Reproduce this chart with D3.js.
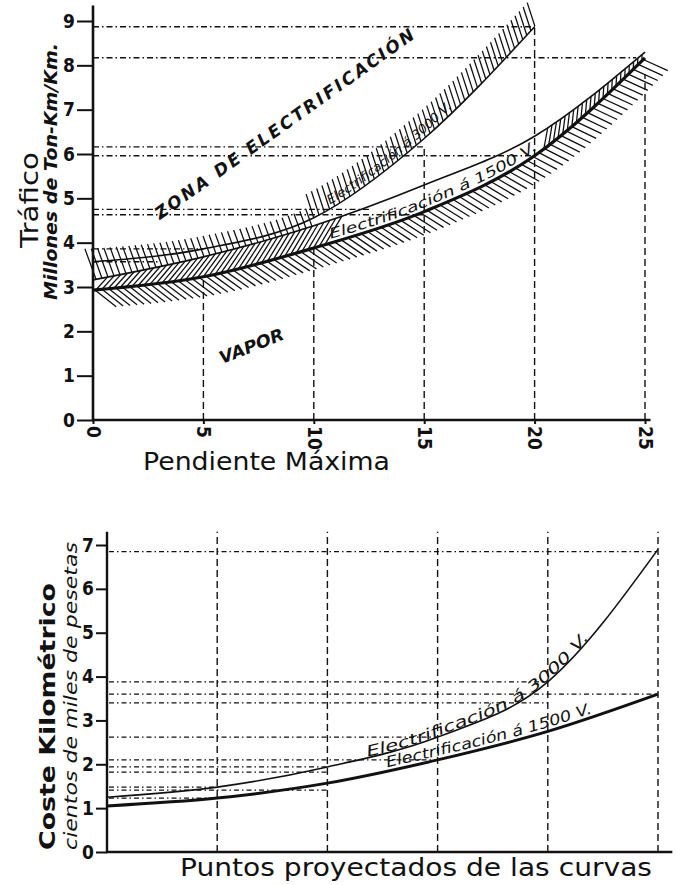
<!DOCTYPE html>
<html><head><meta charset="utf-8">
<script src="https://cdn.jsdelivr.net/npm/d3@7"></script>
<style>body{margin:0;background:#fff}</style>
</head><body>
<svg id="c" width="677" height="885"></svg>
<script>
// ===== TOP CHART DATA (Tráfico vs Pendiente Máxima) =====
const pendiente = [0, 5, 10, 15, 20, 25];
const pendiente3000 = [0, 5, 10, 15, 20];
const trafico3000 = [3.57, 3.86, 4.56, 6.35, 8.87];
const trafico1500 = [3.16, 3.68, 4.38, 5.3, 6.4, 8.3];
const traficoVapor = [2.93, 3.23, 3.88, 4.7, 5.96, 8.17];
const topYTicks = [0, 1, 2, 3, 4, 5, 6, 7, 8, 9];
const topXTicks = [0, 5, 10, 15, 20, 25];
const topHLineVal = [8.87, 8.17, 6.16, 5.96, 4.75, 4.63, 3.86, 3.57];
const topHLineEnd = [20, 24.6, 15, 20, 12.6, 15, 5, 3];
const topVLineX = [5, 10, 15, 20, 25];
const topVLineTop = [3.23, 3.88, 6.16, 8.87, 7.8];

// ===== BOTTOM CHART DATA (Coste Kilométrico) =====
const puntos = [0, 1, 2, 3, 4, 5];
const coste3000 = [1.25, 1.48, 1.94, 2.62, 3.88, 6.9];
const coste1500 = [1.05, 1.23, 1.57, 2.1, 2.75, 3.6];
const botYTicks = [0, 1, 2, 3, 4, 5, 6, 7];
const botHLineVal = [6.85, 3.88, 3.6, 3.4, 2.62, 2.1, 1.94, 1.82, 1.48, 1.41, 1.23];
const botHLineEnd = [5, 4, 5, 4, 3, 3, 2, 2, 1, 2, 1];
const botVLineX = [1, 2, 3, 4, 5];
const botVLineTop = 7.3;

const INK = '#111';
const SANS = "'DejaVu Sans', sans-serif";
const COND = "'DejaVu Sans Condensed','DejaVu Sans', sans-serif";
const svg = d3.select('#c');

// ---------- scales ----------
const xT = d3.scaleLinear().domain([0, 25]).range([93, 645]);
const yT = d3.scaleLinear().domain([0, 9]).range([420, 21]);
const xB = d3.scaleLinear().domain([0, 5]).range([107, 658]);
const yB = d3.scaleLinear().domain([0, 7]).range([852, 545]);

// ---------- helpers ----------
function sampler(node) {
  const L = node.getTotalLength();
  const n = Math.ceil(L / 1.5);
  const pts = d3.range(n + 1).map(i => { const p = node.getPointAtLength(L * i / n); return {x: p.x, y: p.y, s: L * i / n}; });
  return {L, pts, node};
}
function interpAt(S, x, key) {
  const pts = S.pts;
  if (x <= pts[0].x) return pts[0][key];
  if (x >= pts[pts.length - 1].x) return pts[pts.length - 1][key];
  let lo = 0, hi = pts.length - 1;
  while (hi - lo > 1) { const m = (lo + hi) >> 1; if (pts[m].x <= x) lo = m; else hi = m; }
  const a = pts[lo], b = pts[hi]; const t = (x - a.x) / ((b.x - a.x) || 1);
  return a[key] + t * (b[key] - a[key]);
}
const yAt = (S, x) => interpAt(S, x, 'y');
const sAt = (S, x) => interpAt(S, x, 's');
function tangent(S, s) {
  const p = S.node.getPointAtLength(Math.max(0, s - 1.5)), q = S.node.getPointAtLength(Math.min(S.L, s + 1.5));
  return Math.atan2(p.y - q.y, q.x - p.x);
}
function solve(f, tmax) {
  if (f(tmax) > 0) return tmax;
  let lo = 0, hi = tmax;
  for (let i = 0; i < 25; i++) { const m = (lo + hi) / 2; if (f(m) > 0) lo = m; else hi = m; }
  return (lo + hi) / 2;
}
function segPath(segs) { return segs.map(s => `M${s[0].toFixed(1)},${s[1].toFixed(1)}L${s[2].toFixed(1)},${s[3].toFixed(1)}`).join(''); }

// ================= TOP CHART =================
const gT = svg.append('g');
gT.selectAll('.th').data(topHLineVal).join('line')
  .attr('x1', xT(0)).attr('x2', (d, i) => xT(topHLineEnd[i]))
  .attr('y1', d => yT(d)).attr('y2', d => yT(d))
  .attr('stroke', INK).attr('stroke-width', 1.4).attr('stroke-dasharray', '6 3 1.5 3');
gT.selectAll('.tv').data(topVLineX).join('line')
  .attr('x1', d => xT(d)).attr('x2', d => xT(d))
  .attr('y1', yT(0)).attr('y2', (d, i) => yT(topVLineTop[i]))
  .attr('stroke', INK).attr('stroke-width', 1.4).attr('stroke-dasharray', '7 4');

const lineT = d3.line().curve(d3.curveMonotoneX);
const pA = gT.append('path').attr('id', 'tA')
  .attr('d', lineT(pendiente3000.map((p, i) => [xT(p), yT(trafico3000[i])])))
  .attr('fill', 'none').attr('stroke', INK).attr('stroke-width', 1.6);
const pB = gT.append('path').attr('id', 'tB')
  .attr('d', lineT(pendiente.map((p, i) => [xT(p), yT(trafico1500[i])])))
  .attr('fill', 'none').attr('stroke', INK).attr('stroke-width', 1.6);
const pC = gT.append('path').attr('id', 'tC')
  .attr('d', lineT(pendiente.map((p, i) => [xT(p), yT(traficoVapor[i])])))
  .attr('fill', 'none').attr('stroke', INK).attr('stroke-width', 3.2);
const SA = sampler(pA.node()), SB = sampler(pB.node()), SC = sampler(pC.node());

const segs = [];
// hatch below vapor curve
for (let s = 2; s < SC.L; s += 7) {
  const p = SC.node.getPointAtLength(s);
  const th = tangent(SC, s) * 180 / Math.PI;
  const a = (40 - 0.35 * th) * Math.PI / 180;
  segs.push([p.x, p.y, p.x + 27 * Math.cos(a), p.y + 27 * Math.sin(a)]);
}
// band hatch "///" between vapor and 1500 V (text occupies the middle part)
const xTextStart = 332, xTextEnd = 540;
for (let s = 3; s < SC.L - 2; s += 6) {
  const p = SC.node.getPointAtLength(s);
  if (p.x > xTextStart - 6 && p.x < xTextEnd) continue;
  const phi = tangent(SC, s) + 0.75;
  const c = Math.cos(phi), sn = Math.sin(phi);
  const t = solve(tt => (p.y - tt * sn) - yAt(SB, p.x + tt * c), 60);
  segs.push([p.x, p.y, p.x + t * c, p.y - t * sn]);
}
// hatch from 1500 V line up past the 3000 V line (left zone)
const a70 = 70 * Math.PI / 180;
for (let x = xT(0) + 3; x < xT(10); x += 6) {
  const y0 = yAt(SB, x);
  const t = solve(tt => (y0 - tt * Math.sin(a70)) - (yAt(SA, x - tt * Math.cos(a70)) - 13), 80);
  segs.push([x, y0, x - t * Math.cos(a70), y0 - t * Math.sin(a70)]);
}
// hatch above 3000 V line
const a72 = 72 * Math.PI / 180;
for (let s = sAt(SA, xT(10)); s < SA.L + 4; s += 6) {
  const p = SA.node.getPointAtLength(Math.min(s, SA.L));
  const px = s > SA.L ? p.x + (s - SA.L) * 0.6 : p.x, py = s > SA.L ? p.y - (s - SA.L) * 0.8 : p.y;
  segs.push([px, py, px - 25 * Math.cos(a72), py - 25 * Math.sin(a72)]);
}
gT.insert('path', '#tA').attr('d', segPath(segs)).attr('stroke', INK).attr('stroke-width', 1.3).attr('fill', 'none');

// axes
const axT = gT.append('g').attr('transform', `translate(${xT(0)},0)`)
  .call(d3.axisLeft(yT).tickValues(topYTicks).tickFormat(d3.format('d')).tickSize(16).tickSizeOuter(0).tickPadding(2));
axT.select('.domain').remove();
gT.append('line').attr('x1', xT(0)).attr('x2', xT(0)).attr('y1', yT(0) + 1).attr('y2', yT(9.35))
  .attr('stroke', INK).attr('stroke-width', 2.6);
const axTx = gT.append('g').attr('transform', `translate(0,${yT(0)})`)
  .call(d3.axisBottom(xT).tickValues(topXTicks).tickFormat(d3.format('d')).tickSize(4).tickSizeOuter(0));
axTx.select('.domain').remove();
axTx.selectAll('text').attr('transform', 'rotate(90)').attr('x', 6).attr('y', 0).attr('dy', '0.35em').attr('text-anchor', 'start');
gT.append('line').attr('x1', xT(0) - 1).attr('x2', xT(25.25)).attr('y1', yT(0)).attr('y2', yT(0))
  .attr('stroke', INK).attr('stroke-width', 2.6);
[axT, axTx].forEach(g => {
  g.selectAll('line').attr('stroke', INK).attr('stroke-width', 2);
  g.selectAll('text').attr('fill', INK).attr('font-size', 19).attr('font-weight', 'bold').attr('font-family', COND);
});

// texts top
gT.append('text').attr('transform', 'translate(38,248) rotate(-90)')
  .attr('font-family', SANS).attr('font-size', 24).attr('fill', INK)
  .attr('textLength', 96).attr('lengthAdjust', 'spacingAndGlyphs').text('Tráfico');
gT.append('text').attr('transform', 'translate(57,300) rotate(-90)')
  .attr('font-family', SANS).attr('font-size', 17).attr('font-style', 'italic').attr('font-weight', 'bold').attr('fill', INK)
  .attr('textLength', 257).attr('lengthAdjust', 'spacingAndGlyphs').text('Millones de Ton-Km/Km.');
gT.append('text').attr('x', 143).attr('y', 470)
  .attr('font-family', SANS).attr('font-size', 24).attr('fill', INK)
  .attr('textLength', 247).attr('lengthAdjust', 'spacingAndGlyphs').text('Pendiente Máxima');
gT.append('text').attr('transform', 'translate(160,220) rotate(-35.5)')
  .attr('font-family', SANS).attr('font-size', 17).attr('font-style', 'italic').attr('font-weight', 'bold').attr('fill', INK)
  .attr('textLength', 314).attr('lengthAdjust', 'spacing').text('ZONA DE ELECTRIFICACIÓN');
gT.append('text').attr('transform', 'translate(222,364) rotate(-21.5)')
  .attr('font-family', SANS).attr('font-size', 17).attr('font-style', 'italic').attr('font-weight', 'bold').attr('fill', INK)
  .attr('textLength', 68).attr('lengthAdjust', 'spacingAndGlyphs').text('VAPOR');
function labelOnPath(g, id, S, x0, x1, dy, size, txt) {
  const s0 = sAt(S, x0), s1 = sAt(S, x1);
  g.append('text').attr('dy', dy).attr('font-family', SANS).attr('font-size', size)
    .attr('font-style', 'italic').attr('fill', INK)
    .append('textPath').attr('href', '#' + id).attr('startOffset', s0)
    .attr('textLength', s1 - s0).attr('lengthAdjust', 'spacingAndGlyphs').text(txt);
}
labelOnPath(gT, 'tA', SA, 332, 455, -4, 12.5, 'Electrificación á 3000 V.');
labelOnPath(gT, 'tC', SC, xTextStart, xTextEnd, -4, 14, 'Electrificación á 1500 V.');

// ================= BOTTOM CHART =================
const gB = svg.append('g');
gB.selectAll('.bv').data(botVLineX).join('line')
  .attr('x1', d => xB(d)).attr('x2', d => xB(d)).attr('y1', yB(0)).attr('y2', yB(botVLineTop))
  .attr('stroke', INK).attr('stroke-width', 1.4).attr('stroke-dasharray', '7 4');
gB.selectAll('.bh').data(botHLineVal).join('line')
  .attr('x1', xB(0) + 2).attr('x2', (d, i) => xB(botHLineEnd[i]))
  .attr('y1', d => yB(d)).attr('y2', d => yB(d))
  .attr('stroke', INK).attr('stroke-width', 1.3).attr('stroke-dasharray', '5 3 1.5 3');
const lineB = d3.line().curve(d3.curveMonotoneX);
const p3 = gB.append('path').attr('id', 'b3000')
  .attr('d', lineB(puntos.map((p, i) => [xB(p), yB(coste3000[i])])))
  .attr('fill', 'none').attr('stroke', INK).attr('stroke-width', 1.6);
const p15 = gB.append('path').attr('id', 'b1500')
  .attr('d', lineB(puntos.map((p, i) => [xB(p), yB(coste1500[i])])))
  .attr('fill', 'none').attr('stroke', INK).attr('stroke-width', 3);
const S3 = sampler(p3.node()), S15 = sampler(p15.node());

const axB = gB.append('g').attr('transform', `translate(${xB(0)},0)`)
  .call(d3.axisLeft(yB).tickValues(botYTicks).tickFormat(d3.format('d')).tickSize(11).tickSizeOuter(0).tickPadding(2));
axB.select('.domain').remove();
axB.selectAll('line').attr('stroke', INK).attr('stroke-width', 2);
axB.selectAll('text').attr('fill', INK).attr('font-size', 19).attr('font-weight', 'bold').attr('font-family', COND);
gB.append('line').attr('x1', xB(0)).attr('x2', xB(0)).attr('y1', yB(0) + 1).attr('y2', yB(7.3))
  .attr('stroke', INK).attr('stroke-width', 2.4);
gB.append('line').attr('x1', xB(0) - 1).attr('x2', xB(5.13)).attr('y1', yB(0)).attr('y2', yB(0))
  .attr('stroke', INK).attr('stroke-width', 2.4);

gB.append('text').attr('transform', 'translate(55,850) rotate(-90)')
  .attr('font-family', SANS).attr('font-size', 22).attr('font-weight', 'bold').attr('fill', INK)
  .attr('textLength', 267).attr('lengthAdjust', 'spacingAndGlyphs').text('Coste Kilométrico');
gB.append('text').attr('transform', 'translate(77,850) rotate(-90)')
  .attr('font-family', SANS).attr('font-size', 18).attr('font-style', 'italic').attr('fill', INK)
  .attr('textLength', 308).attr('lengthAdjust', 'spacingAndGlyphs').text('cientos de miles de pesetas');
gB.append('text').attr('x', 180).attr('y', 876)
  .attr('font-family', SANS).attr('font-size', 25).attr('fill', INK)
  .attr('textLength', 472).attr('lengthAdjust', 'spacingAndGlyphs').text('Puntos proyectados de las curvas');
labelOnPath(gB, 'b3000', S3, 368, 590, -1, 15, 'Electrificación á 3000 V.');
labelOnPath(gB, 'b1500', S15, 388, 594, -4, 15, 'Electrificación á 1500 V.');
</script>
</body></html>
